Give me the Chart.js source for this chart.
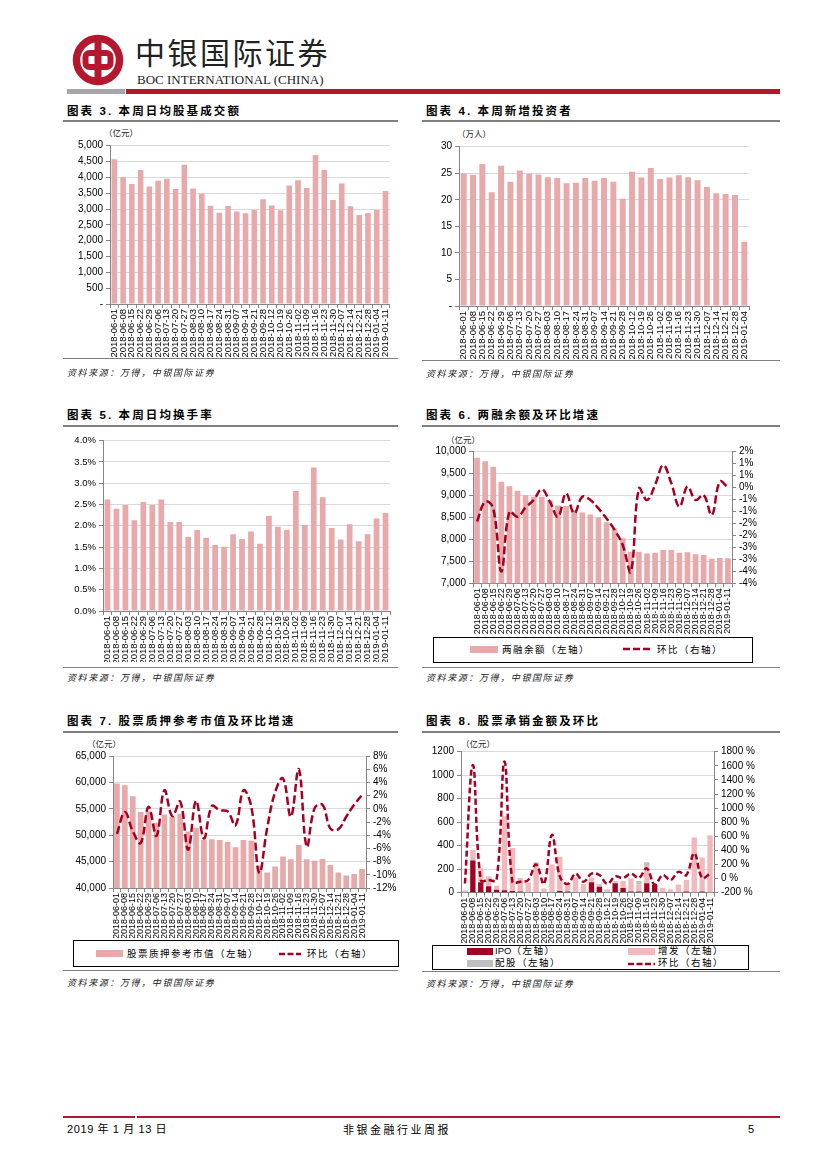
<!DOCTYPE html>
<html><head><meta charset="utf-8">
<script src="https://cdn.jsdelivr.net/npm/chart.js@4/dist/chart.umd.min.js"></script>
<style>
body{margin:0;background:#fff;}
#page{position:relative;width:827px;height:1169px;overflow:hidden;background:#fff;font-family:"Liberation Sans",Arial,sans-serif;}
.title{position:absolute;font-family:"Liberation Sans","Noto Sans CJK SC",sans-serif;font-weight:700;font-size:11.5px;letter-spacing:2.1px;white-space:nowrap;line-height:14px;color:#000;}
.tline{position:absolute;height:2px;background:#7f7f7f;}
.sline{position:absolute;height:1px;background:#7f7f7f;}
.src{position:absolute;font-family:"Noto Sans CJK SC",sans-serif;font-style:italic;font-size:9px;letter-spacing:1.6px;white-space:nowrap;line-height:12px;color:#222;}
.unit{position:absolute;font-family:"Noto Sans CJK SC",sans-serif;font-size:8.5px;white-space:nowrap;line-height:10px;color:#222;}
.cw{position:absolute;}
.legend{position:absolute;border:1px solid #000;box-sizing:border-box;}
.lg{position:absolute;font-family:"Liberation Sans","Noto Sans CJK SC",sans-serif;font-size:9.5px;letter-spacing:1.5px;white-space:nowrap;line-height:12px;color:#000;}
.sw{position:absolute;height:7px;}
</style>
</head><body>
<div id="page">
  <!-- header -->
  <svg style="position:absolute;left:70px;top:33px" width="56" height="56" viewBox="0 0 56 56">
    <circle cx="28" cy="27" r="21.5" fill="none" stroke="#B5172F" stroke-width="7.5"/>
    <rect x="15.5" y="20" width="25" height="14" rx="4" fill="none" stroke="#B5172F" stroke-width="6"/>
    <rect x="24.5" y="4" width="7" height="46" fill="#B5172F"/>
  </svg>
  <div style="position:absolute;left:135px;top:34px;font-family:'Noto Sans CJK SC',sans-serif;font-size:30px;letter-spacing:2.5px;line-height:34px;color:#222;white-space:nowrap;">中银国际证券</div>
  <div style="position:absolute;left:137px;top:72px;font-family:'Liberation Serif',serif;font-size:13px;line-height:15px;color:#222;white-space:nowrap;">BOC INTERNATIONAL (CHINA)</div>
  <div style="position:absolute;left:67px;top:89px;width:58px;height:5px;background:#a6a6a6;"></div>
  <div style="position:absolute;left:126px;top:89px;width:654px;height:5px;background:#B5172F;"></div>

  <!-- chart 3 -->
  <div class="title" style="left:67px;top:104px;">图表 3. 本周日均股基成交额</div>
  <div class="tline" style="left:63px;top:120px;width:335px;"></div>
  <div class="unit" style="left:104px;top:127px;">（亿元）</div>
  <div class="cw" style="left:63px;top:135px;width:335px;height:225px;"><canvas id="c3"></canvas></div>
  <div class="sline" style="left:63px;top:358px;width:335px;"></div>
  <div class="src" style="left:67px;top:367px;">资料来源：万得，中银国际证券</div>

  <!-- chart 4 -->
  <div class="title" style="left:426px;top:104px;">图表 4. 本周新增投资者</div>
  <div class="tline" style="left:422px;top:120px;width:358px;"></div>
  <div class="unit" style="left:457px;top:128px;">（万人）</div>
  <div class="cw" style="left:422px;top:135px;width:358px;height:225px;"><canvas id="c4"></canvas></div>
  <div class="sline" style="left:422px;top:360px;width:358px;"></div>
  <div class="src" style="left:426px;top:368px;">资料来源：万得，中银国际证券</div>

  <!-- chart 5 -->
  <div class="title" style="left:67px;top:408px;">图表 5. 本周日均换手率</div>
  <div class="tline" style="left:63px;top:425px;width:335px;"></div>
  <div class="cw" style="left:63px;top:430px;width:335px;height:232px;"><canvas id="c5"></canvas></div>
  <div class="sline" style="left:63px;top:667px;width:335px;"></div>
  <div class="src" style="left:67px;top:672px;">资料来源：万得，中银国际证券</div>

  <!-- chart 6 -->
  <div class="title" style="left:426px;top:408px;">图表 6. 两融余额及环比增速</div>
  <div class="tline" style="left:422px;top:425px;width:358px;"></div>
  <div class="unit" style="left:446px;top:434px;">（亿元）</div>
  <div class="cw" style="left:422px;top:440px;width:358px;height:195px;"><canvas id="c6"></canvas></div>
  <div class="legend" style="left:433px;top:637px;width:320px;height:26px;"></div>
  <div class="sw" style="left:470px;top:646px;width:28px;background:#E8A9AA;"></div>
  <div class="lg" style="left:502px;top:644px;">两融余额（左轴）</div>
  <svg style="position:absolute;left:623px;top:645px" width="30" height="8"><line x1="0" y1="4" x2="30" y2="4" stroke="#A50021" stroke-width="2.5" stroke-dasharray="7,3"/></svg>
  <div class="lg" style="left:657px;top:644px;">环比（右轴）</div>
  <div class="sline" style="left:422px;top:667px;width:358px;"></div>
  <div class="src" style="left:426px;top:672px;">资料来源：万得，中银国际证券</div>

  <!-- chart 7 -->
  <div class="title" style="left:67px;top:714px;">图表 7. 股票质押参考市值及环比增速</div>
  <div class="tline" style="left:63px;top:731px;width:335px;"></div>
  <div class="unit" style="left:87px;top:738px;">（亿元）</div>
  <div class="cw" style="left:63px;top:745px;width:335px;height:193px;"><canvas id="c7"></canvas></div>
  <div class="legend" style="left:73px;top:940px;width:326px;height:27px;"></div>
  <div class="sw" style="left:96px;top:950px;width:27px;background:#E8A9AA;"></div>
  <div class="lg" style="left:127px;top:948px;">股票质押参考市值（左轴）</div>
  <svg style="position:absolute;left:279px;top:950px" width="22" height="8"><line x1="0" y1="4" x2="22" y2="4" stroke="#A50021" stroke-width="2.5" stroke-dasharray="6,2.5"/></svg>
  <div class="lg" style="left:307px;top:948px;">环比（右轴）</div>
  <div class="sline" style="left:63px;top:970px;width:335px;"></div>
  <div class="src" style="left:67px;top:977px;">资料来源：万得，中银国际证券</div>

  <!-- chart 8 -->
  <div class="title" style="left:426px;top:714px;">图表 8. 股票承销金额及环比</div>
  <div class="tline" style="left:422px;top:731px;width:358px;"></div>
  <div class="unit" style="left:461px;top:738px;">（亿元）</div>
  <div class="cw" style="left:422px;top:740px;width:358px;height:203px;"><canvas id="c8"></canvas></div>
  <div class="legend" style="left:432px;top:945px;width:317px;height:25px;"></div>
  <div class="sw" style="left:467px;top:948px;width:26px;background:#A50021;"></div>
  <div class="lg" style="left:495px;top:945px;"><span style="letter-spacing:0">IPO</span>（左轴）</div>
  <div class="sw" style="left:628px;top:948px;width:27px;background:#F2B8BC;"></div>
  <div class="lg" style="left:658px;top:945px;">增发（左轴）</div>
  <div class="sw" style="left:467px;top:960px;width:26px;background:#BFBFBF;"></div>
  <div class="lg" style="left:495px;top:957px;">配股（左轴）</div>
  <svg style="position:absolute;left:628px;top:960px" width="27" height="8"><line x1="0" y1="4" x2="27" y2="4" stroke="#A50021" stroke-width="2.5" stroke-dasharray="6,2.5"/></svg>
  <div class="lg" style="left:658px;top:957px;">环比（右轴）</div>
  <div class="sline" style="left:422px;top:971px;width:358px;"></div>
  <div class="src" style="left:426px;top:978px;">资料来源：万得，中银国际证券</div>

  <!-- footer -->
  <div style="position:absolute;left:63px;top:1116px;width:72px;height:2px;background:#B5172F;"></div>
  <div style="position:absolute;left:137px;top:1116px;width:643px;height:2px;background:#B5172F;"></div>
  <div style="position:absolute;left:67px;top:1123px;font-family:'Liberation Sans Narrow','Liberation Sans','Noto Sans CJK SC',sans-serif;font-size:11px;letter-spacing:0.6px;line-height:13px;white-space:nowrap;">2019 年 1 月 13 日</div>
  <div style="position:absolute;left:343px;top:1123px;font-family:'Noto Sans CJK SC',sans-serif;font-size:11px;letter-spacing:2.5px;line-height:13px;white-space:nowrap;">非银金融行业周报</div>
  <div style="position:absolute;left:748px;top:1123px;font-family:'Liberation Sans',sans-serif;font-size:11px;line-height:13px;">5</div>
</div>

<script>
// ---------- data ----------
const weeks = ['2018-06-01','2018-06-08','2018-06-15','2018-06-22','2018-06-29','2018-07-06','2018-07-13','2018-07-20','2018-07-27','2018-08-03','2018-08-10','2018-08-17','2018-08-24','2018-08-31','2018-09-07','2018-09-14','2018-09-21','2018-09-28','2018-10-12','2018-10-19','2018-10-26','2018-11-02','2018-11-09','2018-11-16','2018-11-23','2018-11-30','2018-12-07','2018-12-14','2018-12-21','2018-12-28','2019-01-04','2019-01-11'];
const weeks31 = weeks.slice(0,31);

const tradeAmount = [4570,4000,3790,4230,3715,3895,3955,3630,4400,3650,3485,3105,2885,3095,2925,2865,2970,3305,3115,2960,3745,3905,3665,4705,4230,3285,3810,3085,2810,2875,2970,3570];
const newInvestors = [25.0,24.7,26.75,21.4,26.4,23.4,25.5,24.9,24.75,24.25,24.1,23.1,23.2,24.1,23.6,24.1,23.4,20.2,25.3,24.2,26.0,23.9,24.2,24.6,24.25,23.7,22.4,21.25,21.1,20.9,12.1];
const turnoverRate = [2.62,2.40,2.49,2.13,2.56,2.49,2.62,2.09,2.09,1.74,1.90,1.72,1.55,1.51,1.80,1.69,1.87,1.58,2.24,1.98,1.91,2.82,2.02,3.37,2.67,1.95,1.68,2.04,1.64,1.80,2.17,2.30];

const marginBalance = [9860,9785,9655,9315,9215,9110,9010,8975,8975,8885,8775,8760,8670,8615,8570,8505,8390,8250,8025,7720,7720,7680,7695,7760,7760,7695,7710,7665,7645,7560,7575,7570];
const marginChg = [-1.42,-0.59,-0.87,-3.51,-1.01,-1.22,-0.83,-0.52,-0.07,-0.59,-1.22,-0.24,-1.08,-0.38,-0.52,-0.87,-1.29,-1.77,-2.40,-3.51,-0.03,-0.52,0.11,0.94,0.18,-0.80,0.04,-0.52,-0.31,-1.15,0.25,0.01];

const pledgeValue = [59800,59450,57400,54400,54550,52300,53900,53500,54050,50700,51400,49150,49250,49100,48700,47700,49100,48950,44250,42950,44050,45950,45450,48150,45450,45150,45500,44350,42950,42350,42650,43600];
const pledgeChg = [-3.8,-0.5,-3.4,-5.2,0.3,-4.1,2.8,-1.1,1.1,-6.2,1.2,-4.5,0.4,-0.2,-0.4,-2.5,2.8,0.3,-9.7,-2.9,2.5,4.6,-1.2,6.0,-5.7,0.1,0.6,-3.0,-3.1,-1.2,0.6,2.1];

const ipoAmt = [0,275,90,55,25,20,15,10,0,0,0,0,15,10,0,0,90,50,0,80,40,10,10,80,65,0,0,0,10,0,10,0];
const seoAmt = [20,88,120,85,35,630,365,115,85,245,35,240,290,70,130,75,40,25,30,20,60,110,60,140,0,40,30,70,100,470,290,490];
const rightsAmt = [0,0,0,0,0,0,0,0,0,15,0,0,0,0,0,0,0,0,0,0,0,0,30,40,0,0,0,0,0,0,0,0];
const underwriteChg = [-70,1610,-20,-20,-20,1660,-45,-45,-20,200,-75,620,30,-75,70,-45,70,50,-75,30,10,70,10,145,-90,50,-20,95,50,360,10,70];

// ---------- styles ----------
const F = "'Liberation Sans', Arial, sans-serif";
const AX = '#868686', GRID = '#d9d9d9', PINK = '#E8A9AA', DARK = '#A50021';
Chart.defaults.animation = false;
Chart.defaults.font.family = F;
Chart.defaults.color = '#000';

function xScale(h, size){
  return {type:'category', offset:true, stacked:false,
    grid:{display:true, drawOnChartArea:false, drawTicks:true, tickLength:4, color:AX, offset:true},
    border:{display:true, color:AX, width:1},
    ticks:{autoSkip:false, maxRotation:90, minRotation:90, font:{size:size}, color:'#000', padding:1},
    afterFit:s=>{s.height=h;}};
}
function yScale(pos, w, min, max, step, fmt, gridOn, size){
  return {position:pos, min:min, max:max,
    grid:{display:true, drawOnChartArea:gridOn, color:GRID, tickColor:AX, tickLength:4, drawTicks:true},
    border:{display:true, color:AX, width:1},
    ticks:{stepSize:step, autoSkip:false, callback:fmt, font:{size:size||10}, color:'#000', padding:3},
    afterFit:s=>{s.width=w;}};
}
const comma = v => v===0 ? '-' : Number(v).toLocaleString('en-US');
const commaPlain = v => Number(v).toLocaleString('en-US');
function baseOpts(top, right, scales){
  return {responsive:true, maintainAspectRatio:false, animation:false,
    layout:{padding:{top:top, right:right, left:0, bottom:0}},
    plugins:{legend:{display:false}, tooltip:{enabled:false}},
    scales:scales};
}

// chart 3
new Chart(document.getElementById('c3'), {
  type:'bar',
  data:{labels:weeks, datasets:[{data:tradeAmount, backgroundColor:PINK, categoryPercentage:1, barPercentage:0.64}]},
  options:baseOpts(10.7, 8, {x:xScale(56, 9.5), y:yScale('left', 47, 0, 5000, 500, comma, true)})
});
// chart 4
new Chart(document.getElementById('c4'), {
  type:'bar',
  data:{labels:weeks31, datasets:[{data:newInvestors, backgroundColor:PINK, categoryPercentage:1, barPercentage:0.64}]},
  options:baseOpts(11.7, 31, {x:xScale(54, 9.5), y:yScale('left', 37, 0, 30, 5, v=>v===0?'-':v, true)})
});
// chart 5
new Chart(document.getElementById('c5'), {
  type:'bar',
  data:{labels:weeks, datasets:[{data:turnoverRate, backgroundColor:PINK, categoryPercentage:1, barPercentage:0.64}]},
  options:baseOpts(10.7, 5, {x:xScale(51, 9.5), y:yScale('left', 40, 0, 4, 0.5, v=>Number(v).toFixed(1)+'%', true, 9.5)})
});
// chart 6
const roundAway = v => { const r = Math.sign(v)*Math.round(Math.abs(v)); return (r===0?0:r)+'%'; };
new Chart(document.getElementById('c6'), {
  data:{labels:weeks, datasets:[
    {type:'line', data:marginChg, yAxisID:'y1', borderColor:DARK, borderWidth:2.5, borderDash:[8,3.5], pointRadius:0, tension:0.4, fill:false, order:0},
    {type:'bar', data:marginBalance, yAxisID:'y', backgroundColor:PINK, categoryPercentage:1, barPercentage:0.7, order:1}
  ]},
  options:baseOpts(11.7, 0, {x:xScale(51.7, 9), y:yScale('left', 51, 7000, 10000, 500, commaPlain, true),
    y1:yScale('right', 48, -4, 1.5, 0.5, roundAway, false)})
});
// chart 7
new Chart(document.getElementById('c7'), {
  data:{labels:weeks, datasets:[
    {type:'line', data:pledgeChg, yAxisID:'y1', borderColor:DARK, borderWidth:2.5, borderDash:[8,3.5], pointRadius:0, tension:0.4, fill:false, order:0},
    {type:'bar', data:pledgeValue, yAxisID:'y', backgroundColor:PINK, categoryPercentage:1, barPercentage:0.72, order:1}
  ]},
  options:baseOpts(11, 0, {x:xScale(50, 9), y:yScale('left', 50, 40000, 65000, 5000, commaPlain, true),
    y1:yScale('right', 32, -12, 8, 2, v=>v+'%', false)})
});
// chart 8
const s8 = {x:xScale(50.3, 9), y:yScale('left', 39, 0, 1200, 200, v=>v, true),
  y1:yScale('right', 66, -200, 1800, 200, v=>v+' %', false)};
s8.x.stacked = true; s8.y.stacked = true; s8.y1.stacked = false;
new Chart(document.getElementById('c8'), {
  data:{labels:weeks, datasets:[
    {type:'line', data:underwriteChg, yAxisID:'y1', borderColor:DARK, borderWidth:2.5, borderDash:[6,3], pointRadius:0, tension:0.4, fill:false, order:0},
    {type:'bar', data:ipoAmt, yAxisID:'y', backgroundColor:DARK, categoryPercentage:1, barPercentage:0.68, stack:'s', order:1},
    {type:'bar', data:seoAmt, yAxisID:'y', backgroundColor:'#F2B8BC', categoryPercentage:1, barPercentage:0.68, stack:'s', order:2},
    {type:'bar', data:rightsAmt, yAxisID:'y', backgroundColor:'#BFBFBF', categoryPercentage:1, barPercentage:0.68, stack:'s', order:3}
  ]},
  options:baseOpts(11.7, 0, s8)
});
</script>
</body></html>
